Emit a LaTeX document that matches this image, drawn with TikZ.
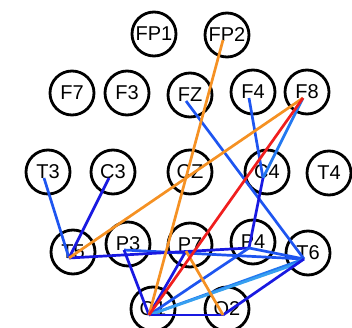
\documentclass[tikz,border=0pt]{standalone}
\usepackage{fontspec}
\setmainfont{Liberation Sans}
\usetikzlibrary{calc}
\definecolor{dblue}{RGB}{25,25,225}
\definecolor{mblue}{RGB}{30,85,240}
\definecolor{lblue}{RGB}{35,120,240}
\definecolor{cblue}{RGB}{55,160,240}
\definecolor{eorange}{RGB}{245,145,35}
\definecolor{ered}{RGB}{240,30,30}
\begin{document}
\begin{tikzpicture}[x=1pt,y=-1pt,
  el/.style={circle, draw=black, line width=2.8pt, minimum size=44pt, inner sep=0pt, fill=white,
    font=\fontsize{20}{20}\selectfont},
  conn/.style={line width=2.7pt}]
\useasboundingbox (0,0) rectangle (352,328);
% electrodes
\node[el] (FP1) at (154,34) {FP1};
\node[el] (FP2) at (227,35) {FP2};
\node[el] (F7) at (72,93) {F7};
\node[el] (F3) at (127,93) {F3};
\node[el] (FZ) at (190,95) {FZ};
\node[el] (F4) at (253,92) {F4};
\node[el] (F8) at (307,92) {F8};
\node[el] (T3) at (48,172) {T3};
\node[el] (C3) at (113,172) {C3};
\node[el] (CZ) at (190,172) {CZ};
\node[el] (C4) at (267,172) {C4};
\node[el] (T4) at (329,173) {T4};
\node[el] (T5) at (73,252) {T5};
\node[el] (P3) at (128,244) {P3};
\node[el] (P7) at (190,245) {P7};
\node[el] (P4) at (253,242) {P4};
\node[el] (T6) at (308,253) {T6};
\node[el] (O1) at (153,309) {O1};
\node[el] (O2) at (227,309) {O2};
% blue connectors
\draw[conn,mblue] ($(T3)+(-4,6)$) -- ($(T5)+(-4,6)$);
\draw[conn,dblue] ($(C3)+(-4,6)$) -- ($(T5)+(-4,6)$);
\draw[conn,mblue] ($(FZ)+(-4,6)$) -- ($(T6)+(-4,6)$);
\draw[conn,mblue] ($(F4)+(-4,6)$) -- ($(C4)+(-4,6)$);
\draw[conn,lblue] ($(F8)+(-4,6)$) -- ($(C4)+(-4,6)$);
\draw[conn,dblue] ($(C4)+(-4,6)$) -- ($(P4)+(-4,6)$);
\draw[conn,mblue] ($(P3)+(-4,6)$) -- ($(T6)+(-4,6)$);
\draw[conn,mblue] ($(P4)+(-4,6)$) -- ($(T6)+(-4,6)$);
\draw[conn,dblue] ($(T5)+(-4,6)$) -- ($(P4)+(-4,6)$);
\draw[conn,dblue] ($(P3)+(-4,6)$) -- ($(O1)+(-4,6)$);
\draw[conn,dblue] ($(O1)+(-4,6)$) -- ($(P7)+(-4,6)$);
\draw[conn,mblue] ($(O1)+(-4,6)$) -- ($(P4)+(-4,6)$);
\draw[conn,lblue] ($(O1)+(-4,6)$) -- ($(T6)+(-4,6)$);
\draw[conn,cblue] ($(O1)+(-4,6)$) -- ($(T6)+(-12,11)$);
\draw[conn,dblue] ($(O1)+(-4,6)$) -- ($(O2)+(-4,6)$);
\draw[conn,dblue] ($(O2)+(-4,6)$) -- ($(T6)+(-4,6)$);
% orange and red connectors
\draw[conn,eorange] ($(FP2)+(-4,5)$) -- ($(O1)+(-4,6)$);
\draw[conn,eorange] ($(F8)+(-4,6)$) -- ($(T5)+(-4,6)$);
\draw[conn,eorange] ($(P7)+(-4,6)$) -- ($(O2)+(-4,6)$);
\draw[conn,ered] ($(F8)+(-4,6)$) -- ($(O1)+(-4,6)$);
\end{tikzpicture}
\end{document}
